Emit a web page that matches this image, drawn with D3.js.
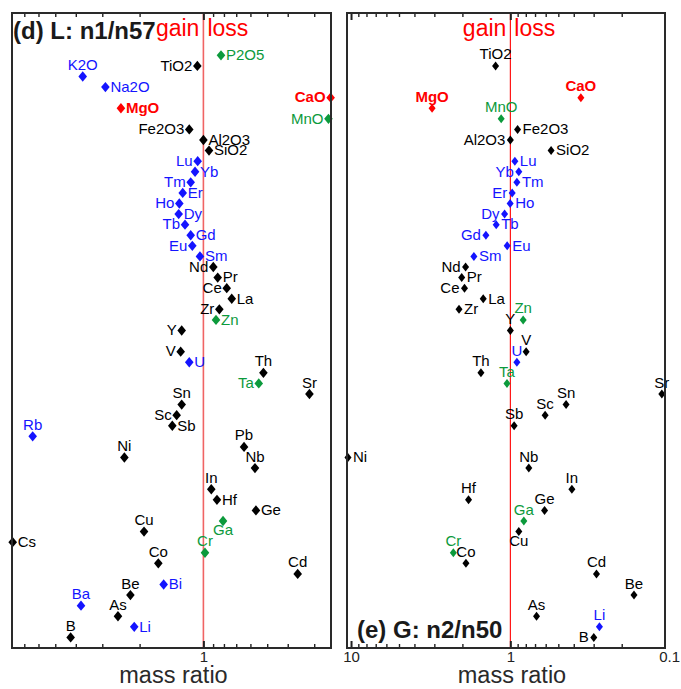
<!DOCTYPE html>
<html>
<head>
<meta charset="utf-8">
<script src="https://cdn.jsdelivr.net/npm/d3@7"></script>
<style>
  html, body { margin: 0; padding: 0; background: #fff; }
  svg { display: block; }
  text { font-family: "Liberation Sans", Arial, Helvetica, sans-serif; }
</style>
</head>
<body>
<svg id="chart" width="681" height="689"></svg>
<script>
// ---------- data ----------
const elements = ["P2O5","TiO2","K2O","Na2O","CaO","MgO","MnO","Fe2O3","Al2O3","SiO2",
  "Lu","Yb","Tm","Er","Ho","Dy","Tb","Gd","Eu","Sm",
  "Nd","Pr","Ce","La","Zr","Zn","Y",null,"V","U",
  "Th","Ta","Sr","Sn","Sc","Sb","Rb","Pb","Ni","Nb",
  null,"In","Hf","Ge","Ga","Cu","Cs","Cr","Co","Cd",
  "Bi","Be","Ba","As","Li","B"];

// (d) L: n1/n57 mass ratios
const ratioL = [0.826,1.068,3.71,2.90,0.251,2.45,0.257,1.166,1.0,0.941,
  1.064,1.095,1.148,1.252,1.299,1.308,1.221,1.148,1.128,1.038,
  0.898,0.856,0.776,0.735,0.841,0.872,1.266,null,1.280,1.166,
  0.521,0.548,0.316,1.266,1.337,1.402,6.39,0.643,2.36,0.571,
  null,0.918,0.863,0.565,0.808,1.906,7.94,0.983,1.632,0.359,
  1.54,2.21,3.78,2.53,2.12,4.23];

// (e) G: n2/n50 mass ratios
const ratioG = [null,1.238,null,null,0.361,3.10,1.142,0.901,1.0,0.555,
  0.937,0.885,0.910,0.974,1.003,1.087,1.227,1.424,1.047,1.694,
  1.91,2.02,1.94,1.48,2.10,0.831,1.0,null,0.796,0.910,
  1.53,1.05,0.112,0.447,0.605,0.947,null,null,10.45,0.766,
  null,0.411,1.83,0.61,0.823,0.885,null,2.28,1.90,0.288,
  null,0.1675,null,0.685,0.276,0.2995];

// colour group per element: k black, b blue, g green, r red
const groups = ["g","k","b","b","r","r","g","k","k","k",
  "b","b","b","b","b","b","b","b","b","b",
  "k","k","k","k","k","g","k",null,"k","b",
  "k","g","k","k","k","k","b","k","k","k",
  null,"k","k","k","g","k","k","g","k","k",
  "b","k","b","k","b","k"];

// label side: r right, l left, t top, b below
const sideL = ["r","l","t","r","l","r","l","l","r","r",
  "l","r","l","r","l","r","l","r","l","r",
  "l","r","l","r","l","r","l",null,"l","r",
  "t","l","t","t","l","r","t","t","t","t",
  null,"t","r","r","b","t","r","t","t","t",
  "r","t","t","t","r","t"];
const sideG = [null,"t",null,null,"t","t","t","r","l","r",
  "r","l","r","l","r","l","r","l","r","r",
  "l","r","l","r","r","t","t",null,"t","t",
  "t","t","t","t","t","t",null,null,"r","t",
  null,"t","t","t","t","b",null,"t","t","t",
  null,"t",null,"t","t","l"];

const ticksL = [7,6,5,4,3,2,1,0.9,0.8,0.7,0.6,0.5,0.4,0.3];
const ticksG = [10,9,8,7,6,5,4,3,2,1,0.9,0.8,0.7,0.6,0.5,0.4,0.3,0.2,0.1];
const majorL = [1];
const majorG = [10,1,0.1];

// ---------- drawing ----------
const colors = {k:"#000000", b:"#1414ff", g:"#0c9a3c", r:"#ff0000"};
const svg = d3.select("#chart");
const yTop = 13, yBottom = 648;
const y = d3.scaleLinear().domain([-4, 56]).range([yTop, yBottom]);

function panel(o) {
  const g = svg.append("g");
  const x = d3.scaleLog().domain(o.domain).range(o.range);
  const [x0, x1] = o.range;

  // reference line at ratio 1
  g.append("line").attr("x1", x(1)).attr("x2", x(1))
    .attr("y1", yTop).attr("y2", yBottom)
    .attr("stroke", o.lineColor).attr("stroke-width", o.lineWidth);

  const inDom = o.ticks.filter(t => x(t) >= x0 - 0.5 && x(t) <= x1 + 0.5);
  const fmt = d => o.major.includes(d) ? d3.format("~g")(d) : "";

  const axB = g.append("g").attr("transform", `translate(0,${yBottom})`)
    .call(d3.axisBottom(x).tickValues(inDom).tickSize(-4).tickPadding(3).tickFormat(fmt));
  const axT = g.append("g").attr("transform", `translate(0,${yTop})`)
    .call(d3.axisTop(x).tickValues(inDom).tickSize(-4).tickFormat(""));
  [axB, axT].forEach(a => {
    a.select(".domain").remove();
    a.selectAll(".tick line").attr("stroke", "#222").attr("stroke-width", 1.4);
    a.selectAll(".tick").filter(d => o.major.includes(d)).select("line")
      .attr("y2", a === axB ? -7 : 7).attr("stroke-width", 2);
  });
  axB.selectAll(".tick text").attr("font-size", 15).attr("fill", "#222")
    .attr("font-family", "Liberation Sans, Arial, sans-serif");
  // major labels that fall just outside the frame
  o.major.filter(t => !inDom.includes(t)).forEach(t => {
    g.append("text").attr("x", x(t)).attr("y", yBottom + 13.5)
      .attr("text-anchor", "middle").attr("font-size", 15).attr("fill", "#222").text(d3.format("~g")(t));
  });

  // points
  const data = elements.map((e, i) => ({e, i, v: o.values[i], grp: groups[i], side: o.side[i]}))
    .filter(d => d.e !== null && d.v !== null);
  const hw = o.dw, hh = o.dh;
  const diamond = `M0,${-hh}L${hw},0L0,${hh}L${-hw},0Z`;
  g.selectAll("path.pt").data(data).join("path").attr("class", "pt")
    .attr("d", diamond)
    .attr("transform", d => `translate(${x(d.v)},${y(d.i)})`)
    .attr("fill", d => colors[d.grp]);

  g.selectAll("text.lab").data(data).join("text").attr("class", "lab")
    .attr("x", d => d.side === "r" ? x(d.v) + 5 : d.side === "l" ? x(d.v) - 5 : x(d.v))
    .attr("y", d => d.side === "t" ? y(d.i) - 6.5 : d.side === "b" ? y(d.i) + 14 : y(d.i) + 4.8)
    .attr("text-anchor", d => d.side === "r" ? "start" : d.side === "l" ? "end" : "middle")
    .attr("font-size", 15)
    .attr("font-weight", d => d.grp === "r" ? "bold" : "normal")
    .attr("fill", d => colors[d.grp])
    .text(d => d.e);

  // gain / loss
  g.append("text").attr("x", x(1) - 4).attr("y", 36).attr("text-anchor", "end")
    .attr("font-size", 23).attr("fill", "#ff0000").text("gain");
  g.append("text").attr("x", x(1) + 4).attr("y", 36).attr("text-anchor", "start")
    .attr("font-size", 23).attr("fill", "#ff0000").text("loss");

  // frame
  g.append("rect").attr("x", x0).attr("y", yTop).attr("width", x1 - x0).attr("height", yBottom - yTop)
    .attr("fill", "none").attr("stroke", "#2a2a2a").attr("stroke-width", 2);

  // title
  g.append("text").attr("x", o.titlePos[0]).attr("y", o.titlePos[1])
    .attr("font-size", 24).attr("font-weight", "bold").attr("fill", "#1a1a1a").text(o.title);

  // axis title
  g.append("text").attr("x", (x0 + x1) / 2 + o.xlabDx).attr("y", 683)
    .attr("text-anchor", "middle").attr("font-size", 23.5).attr("fill", "#2a2a2a").text("mass ratio");
}

panel({domain:[8, 0.25], range:[12, 331], values: ratioL, side: sideL,
  ticks: ticksL, major: majorL, lineColor: "#f06464", lineWidth: 1.6,
  dw: 4.3, dh: 5.2, title: "(d) L: n1/n57", titlePos: [13, 39], xlabDx: 2});
panel({domain:[10.6, 0.107], range:[347, 665], values: ratioG, side: sideG,
  ticks: ticksG, major: majorG, lineColor: "#ff0000", lineWidth: 1.1,
  dw: 3.5, dh: 4.5, title: "(e) G: n2/n50", titlePos: [357, 638], xlabDx: 6});
</script>
</body>
</html>
